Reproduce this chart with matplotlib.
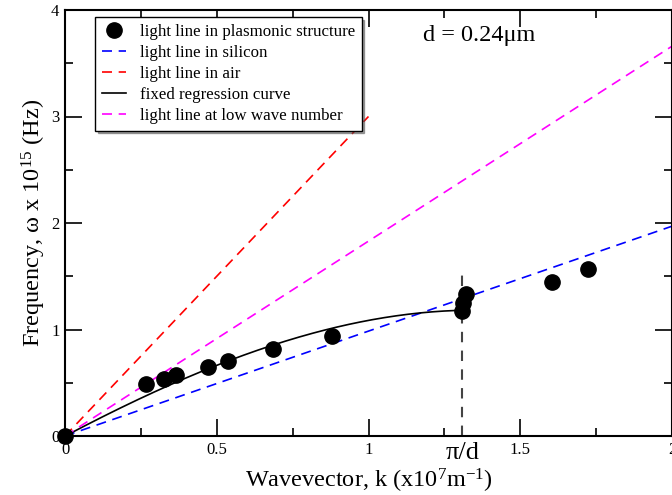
import numpy as np
import matplotlib
matplotlib.use("Agg")
import matplotlib.pyplot as plt
from matplotlib.ticker import MultipleLocator

plt.rcParams['font.family'] = ['Liberation Serif', 'DejaVu Serif']
plt.rcParams['mathtext.fontset'] = 'custom'
plt.rcParams['mathtext.rm'] = 'Liberation Serif'
plt.rcParams['mathtext.default'] = 'regular'

# measured dispersion points (k in 1e7 m^-1, omega in 1e15 Hz)
k_pts = [0, 0.267, 0.327, 0.365, 0.470, 0.536, 0.686, 0.881, 1.308, 1.313, 1.321, 1.605, 1.723]
w_pts = [0, 0.485, 0.532, 0.573, 0.651, 0.707, 0.814, 0.939, 1.177, 1.246, 1.333, 1.446, 1.568]

# samples, refitted below
k_curve = [0, 0.313, 0.61, 0.939, 1.19, 1.285]
w_curve = [0, 0.432, 0.79, 1.042, 1.167, 1.176]
k_curve_end = 1.30

# light line slopes and ranges
slope_si = 0.985
slope_air = 3.0
slope_low = 1.83
k_air_end = 1.0
k_max = 2.0

pi_over_d = 1.309
cut_top = 1.53

fig = plt.figure(figsize=(6.72, 4.95), dpi=100)
ax = fig.add_axes([65/672, 1 - 436/495, 1 - 65/672, (436 - 10)/495])

coef = np.polyfit(k_curve, w_curve, 3)
kk = np.linspace(0, k_curve_end, 200)
kl = np.array([0, k_max])
ka = np.array([0, k_air_end])

ax.plot(k_pts, w_pts, 'o', color='black', ms=11, clip_on=False, zorder=5,
        label='light line in plasmonic structure')
ax.plot(kl, slope_si * kl, '--', color='blue', lw=1.2, dashes=(6, 4),
        label='light line in silicon')
ax.plot(ka, slope_air * ka, '--', color='red', lw=1.2, dashes=(6, 4),
        label='light line in air')
ax.plot(kk, np.polyval(coef, kk), '-', color='black', lw=1.2,
        label='fixed regression curve')
ax.plot(kl, slope_low * kl, '--', color='magenta', lw=1.2, dashes=(6, 4),
        label='light line at low wave number')
ax.plot([pi_over_d, pi_over_d], [0, cut_top], '--', color='#444444', lw=1.5,
        dashes=(5, 4))

ax.set_xlim(0, 2)
ax.set_ylim(0, 4)
ax.xaxis.set_major_locator(MultipleLocator(0.5))
ax.xaxis.set_minor_locator(MultipleLocator(0.25))
ax.yaxis.set_major_locator(MultipleLocator(1))
ax.yaxis.set_minor_locator(MultipleLocator(0.5))
ax.set_xticks([0, 0.5, 1, 1.5, 2])
ax.set_xticklabels(['0', '0.5', '1', '1.5', '2'])
ax.tick_params(which='both', direction='in', top=True, right=True, labelsize=12,
               width=1.2)
ax.tick_params(which='major', length=12, pad=4)
ax.tick_params(which='minor', length=6)
for s in ax.spines.values():
    s.set_linewidth(1.5)

ax.text(pi_over_d, -0.06, 'π/d', ha='center', va='top', fontsize=19)
ax.text(1.18, 3.76, 'd = 0.24μm', ha='left', va='center', fontsize=17.5)

ax.set_xlabel('Wavevector, k (x10$^{7}$m$^{-1}$)', fontsize=17.5, labelpad=6.5)
ax.set_ylabel('Frequency, ω x 10$^{15}$ (Hz)', fontsize=17.5, labelpad=2)

leg = ax.legend(loc='upper left', bbox_to_anchor=(0.049, 0.984), fontsize=12.2,
                frameon=True, fancybox=False, shadow=True, handlelength=1.42,
                borderpad=0.4, labelspacing=0.3, handletextpad=0.83,
                borderaxespad=0)
leg.get_frame().set_edgecolor('black')
leg.get_frame().set_linewidth(1.0)

fig.savefig('out.png', dpi=100)
